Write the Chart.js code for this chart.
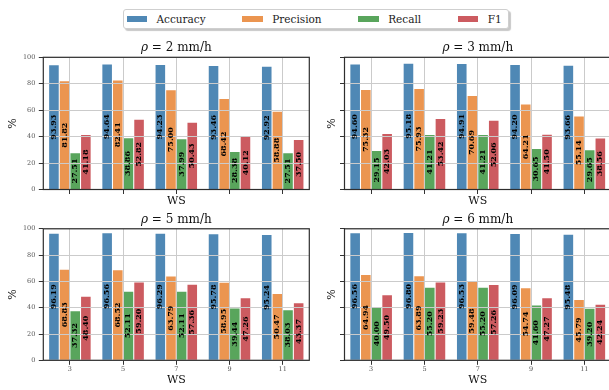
<!DOCTYPE html>
<html>
<head>
<meta charset="utf-8">
<script src="https://cdn.jsdelivr.net/npm/chart.js@4.4.1/dist/chart.umd.min.js"></script>
<style>
  html, body { margin: 0; padding: 0; width: 609px; height: 390px; overflow: hidden; background: #fff; }
  canvas { position: absolute; }
  #legend {
    position: absolute; left: 122.5px; top: 8.5px; height: 18px;
    border: 1px solid #cfcfcf; border-radius: 3px; background: #fff;
    box-shadow: 2px 2px 1px rgba(0,0,0,0.22);
    display: flex; align-items: center; padding: 0 6px 0 3px;
    font: 10.5px "DejaVu Serif", serif; color: #222;
  }
  #legend .item { display: flex; align-items: center; margin-right: 36.6px; }
  #legend .item:last-child { margin-right: 0; }
  #legend .sw { display: inline-block; width: 20.6px; height: 6px; margin-right: 9.4px; }
</style>
</head>
<body>
<div id="legend"></div>
<canvas id="p2" width="320" height="180" style="left:0px;top:30px"></canvas>
<canvas id="p3" width="297" height="180" style="left:315px;top:30px"></canvas>
<canvas id="p5" width="320" height="190" style="left:0px;top:200px"></canvas>
<canvas id="p6" width="297" height="190" style="left:315px;top:200px"></canvas>
<script>
const wsLabels = ['3', '5', '7', '9', '11'];
const seriesNames = ['Accuracy', 'Precision', 'Recall', 'F1'];
const seriesColors = ['#4f88b5', '#eb9550', '#59a55c', '#cc5b60'];
const yTicks = [0, 20, 40, 60, 80, 100];

// rho = 2 mm/h
const acc2 = [93.93, 94.64, 94.23, 93.46, 92.92];
const prec2 = [81.82, 82.41, 75.00, 68.42, 58.88];
const rec2 = [27.51, 38.86, 37.99, 28.38, 27.51];
const f1_2 = [41.18, 52.82, 50.43, 40.12, 37.50];

// rho = 3 mm/h
const acc3 = [94.60, 95.18, 94.91, 94.20, 93.66];
const prec3 = [75.32, 75.93, 70.69, 64.21, 55.14];
const rec3 = [29.15, 41.21, 41.21, 30.65, 29.65];
const f1_3 = [42.03, 53.42, 52.06, 41.50, 38.56];

// rho = 5 mm/h
const acc5 = [96.19, 96.56, 96.29, 95.78, 95.24];
const prec5 = [68.83, 68.52, 63.79, 58.95, 50.47];
const rec5 = [37.32, 52.11, 52.11, 39.44, 38.03];
const f1_5 = [48.40, 59.20, 57.36, 47.26, 43.37];

// rho = 6 mm/h
const acc6 = [96.56, 96.80, 96.53, 96.09, 95.48];
const prec6 = [64.94, 63.89, 59.48, 54.74, 45.79];
const rec6 = [40.00, 55.20, 55.20, 41.60, 39.20];
const f1_6 = [49.50, 59.23, 57.26, 47.27, 42.24];

// legend (shared by all panels)
const legendBox = document.getElementById('legend');
seriesNames.forEach((name, i) => {
    const item = document.createElement('div');
    item.className = 'item';
    item.innerHTML = `<span class="sw" style="background:${seriesColors[i]}"></span><span>${name}</span>`;
    legendBox.appendChild(item);
});

// value labels, frame and title for each panel
const panelDecor = {
    id: 'panelDecor',
    afterDraw(chart, args, opts) {
        const ctx = chart.ctx;
        const area = chart.chartArea;

        ctx.save();
        ctx.font = 'bold 8px "DejaVu Serif"';
        ctx.fillStyle = '#000';
        ctx.textAlign = 'center';
        ctx.textBaseline = 'middle';
        chart.data.datasets.forEach((ds, i) => {
            chart.getDatasetMeta(i).data.forEach((bar, j) => {
                ctx.save();
                ctx.translate(bar.x, (bar.y + bar.base) / 2);
                ctx.rotate(-Math.PI / 2);
                ctx.fillText(ds.data[j].toFixed(2), 0, 0);
                ctx.restore();
            });
        });
        ctx.restore();

        ctx.save();
        ctx.strokeStyle = '#2e2e2e';
        ctx.lineWidth = 1.2;
        ctx.strokeRect(area.left, area.top, area.right - area.left, area.bottom - area.top);
        ctx.restore();

        // title: italic rho + regular rest
        ctx.save();
        ctx.fillStyle = '#111';
        ctx.textBaseline = 'middle';
        ctx.textAlign = 'left';
        const rest = ` = ${opts.rho} mm/h`;
        ctx.font = 'italic 12px "DejaVu Serif"';
        const w1 = ctx.measureText('ρ').width;
        ctx.font = '12px "DejaVu Serif"';
        const w2 = ctx.measureText(rest).width;
        let x = (area.left + area.right) / 2 - (w1 + w2) / 2;
        ctx.font = 'italic 12px "DejaVu Serif"';
        ctx.fillText('ρ', x, opts.titleY);
        ctx.font = '12px "DejaVu Serif"';
        ctx.fillText(rest, x + w1, opts.titleY);
        ctx.restore();
    }
};

function makePanel(id, rho, values, p) {
    const ctx = document.getElementById(id);
    return new Chart(ctx, {
        type: 'bar',
        plugins: [panelDecor],
        data: {
            labels: wsLabels,
            datasets: values.map((vals, i) => ({
                label: seriesNames[i],
                data: vals,
                backgroundColor: seriesColors[i],
                borderWidth: 0,
                categoryPercentage: 0.8,
                barPercentage: 0.9
            }))
        },
        options: {
            responsive: false,
            animation: false,
            devicePixelRatio: 1,
            layout: {
                padding: { left: 0, top: p.top, right: p.right, bottom: 0 }
            },
            plugins: {
                legend: { display: false },
                tooltip: { enabled: false },
                panelDecor: { rho: rho, titleY: p.titleY }
            },
            scales: {
                x: {
                    afterFit: (scale) => { scale.height = p.xHeight; },
                    grid: {
                        offset: false,
                        color: '#cbcbcb',
                        lineWidth: 1,
                        z: 1,
                        drawTicks: true,
                        tickLength: 4.5,
                        tickColor: '#333',
                        tickWidth: 1
                    },
                    border: { display: false },
                    ticks: {
                        display: p.xTicks,
                        padding: 0.6,
                        color: '#555',
                        font: { family: 'DejaVu Serif', size: 6.5 }
                    },
                    title: {
                        display: true,
                        text: 'WS',
                        color: '#111',
                        padding: { top: 0, bottom: p.xTitlePad },
                        font: { family: 'DejaVu Serif', size: 11 }
                    }
                },
                y: {
                    min: 0,
                    max: 100,
                    afterFit: (scale) => { scale.width = p.yWidth; },
                    afterBuildTicks: (scale) => { scale.ticks = yTicks.map(v => ({ value: v })); },
                    grid: {
                        color: '#cbcbcb',
                        lineWidth: 1,
                        z: 1,
                        drawTicks: true,
                        tickLength: 4.5,
                        tickColor: '#333',
                        tickWidth: 1
                    },
                    border: { display: false },
                    ticks: {
                        display: p.yTicks,
                        padding: 3.5,
                        color: '#555',
                        font: { family: 'DejaVu Serif', size: 6.5 }
                    },
                    title: {
                        display: true,
                        text: '%',
                        color: '#111',
                        padding: { top: p.yTitlePad, bottom: 0 },
                        font: { family: 'DejaVu Serif', size: 11 }
                    }
                }
            }
        }
    });
}

makePanel('p2', '2', [acc2, prec2, rec2, f1_2],
    { top: 27.3, right: 10.7, xHeight: 20.5, yWidth: 43.3, xTicks: false, yTicks: true, xTitlePad: 2.4, yTitlePad: 6.4, titleY: 18.3 });
makePanel('p3', '3', [acc3, prec3, rec3, f1_3],
    { top: 27.3, right: 1, xHeight: 20.5, yWidth: 29.5, xTicks: false, yTicks: false, xTitlePad: 2.4, yTitlePad: 10.4, titleY: 18.3 });
makePanel('p5', '5', [acc5, prec5, rec5, f1_5],
    { top: 28.8, right: 10.7, xHeight: 29.7, yWidth: 43.3, xTicks: true, yTicks: true, xTitlePad: 3.4, yTitlePad: 6.4, titleY: 20 });
makePanel('p6', '6', [acc6, prec6, rec6, f1_6],
    { top: 28.8, right: 1, xHeight: 29.7, yWidth: 29.5, xTicks: true, yTicks: false, xTitlePad: 3.4, yTitlePad: 10.4, titleY: 20 });
</script>
</body>
</html>
